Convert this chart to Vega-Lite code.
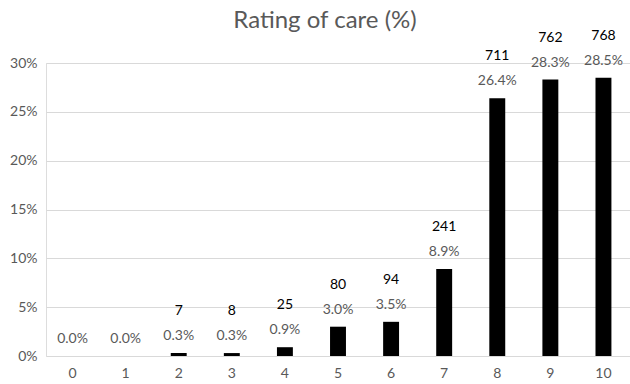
{
  "$schema": "https://vega.github.io/schema/vega-lite/v6.json",
  "autosize": "none",
  "padding": {"left": 46, "top": 63, "right": 0, "bottom": 28},
  "width": 584,
  "height": 293,
  "background": "white",
  "title": {
    "text": "Rating of care (%)",
    "font": "Lato",
    "fontSize": 24,
    "fontWeight": "normal",
    "color": "#595959",
    "anchor": "middle",
    "dx": -13,
    "offset": -4
  },
  "data": {
    "values": [
      {"rating": "0", "count": 0, "pct": 0.0},
      {"rating": "1", "count": 0, "pct": 0.0},
      {"rating": "2", "count": 7, "pct": 0.3},
      {"rating": "3", "count": 8, "pct": 0.3},
      {"rating": "4", "count": 25, "pct": 0.9},
      {"rating": "5", "count": 80, "pct": 3.0},
      {"rating": "6", "count": 94, "pct": 3.5},
      {"rating": "7", "count": 241, "pct": 8.9},
      {"rating": "8", "count": 711, "pct": 26.4},
      {"rating": "9", "count": 762, "pct": 28.3},
      {"rating": "10", "count": 768, "pct": 28.5}
    ]
  },
  "encoding": {
    "x": {
      "field": "rating",
      "type": "ordinal",
      "sort": null,
      "scale": {"paddingInner": 0.7, "paddingOuter": 0.35},
      "axis": {
        "title": null,
        "labelAngle": 0,
        "labelFont": "Lato",
        "labelFontSize": 14,
        "labelColor": "#595959",
        "labelPadding": 10,
        "domain": false,
        "ticks": false
      }
    },
    "y": {
      "field": "pct",
      "type": "quantitative",
      "scale": {"domain": [0, 30], "nice": false},
      "axis": {
        "title": null,
        "values": [0, 5, 10, 15, 20, 25, 30],
        "labelExpr": "datum.value + '%'",
        "labelFont": "Lato",
        "labelFontSize": 14,
        "labelColor": "#595959",
        "labelPadding": 9,
        "domain": false,
        "ticks": false,
        "gridColor": "#d9d9d9",
        "gridWidth": 1
      }
    }
  },
  "layer": [
    {"mark": {"type": "bar", "color": "black"}},
    {
      "transform": [{"calculate": "format(datum.pct, '.1f') + '%'", "as": "pct_label"}],
      "mark": {"type": "text", "font": "Lato", "fontSize": 14, "color": "#595959", "baseline": "middle", "dy": -17},
      "encoding": {"text": {"field": "pct_label", "type": "nominal"}}
    },
    {
      "transform": [{"filter": "datum.count > 0"}],
      "mark": {"type": "text", "font": "Lato", "fontSize": 14, "color": "black", "baseline": "middle", "dy": -42},
      "encoding": {"text": {"field": "count", "type": "quantitative"}}
    }
  ]
}
